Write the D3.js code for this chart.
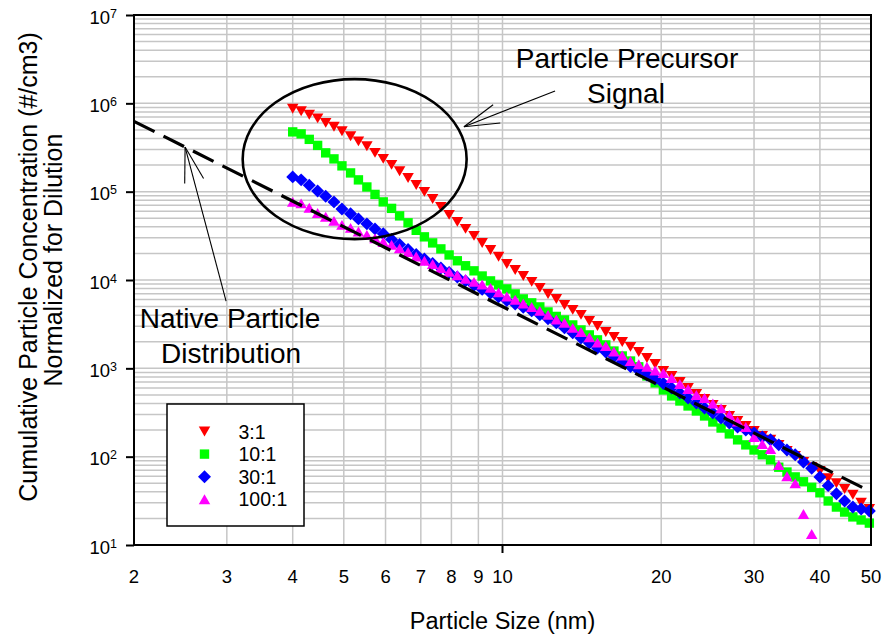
<!DOCTYPE html>
<html>
<head>
<meta charset="utf-8">
<script src="https://cdn.jsdelivr.net/npm/d3@7"></script>
<style>
  html, body { margin: 0; padding: 0; background: #ffffff; }
  svg { display: block; font-family: "Liberation Sans", Arial, Helvetica, sans-serif; }
</style>
</head>
<body>
<svg id="chart" width="895" height="635"></svg>
<script>
// Particle size channels (nm), shared by all dilution series
const sizes = [
  4.00, 4.15, 4.30, 4.46, 4.62, 4.79, 4.96, 5.15, 5.33, 5.53,
  5.73, 5.94, 6.16, 6.38, 6.62, 6.86, 7.11, 7.37, 7.64, 7.92,
  8.21, 8.51, 8.83, 9.15, 9.49, 9.83, 10.19, 10.57, 10.95, 11.36,
  11.77, 12.20, 12.65, 13.11, 13.59, 14.09, 14.61, 15.14, 15.70, 16.27,
  16.87, 17.49, 18.13, 18.79, 19.48, 20.19, 20.93, 21.70, 22.49, 23.32,
  24.17, 25.06, 25.98, 26.93, 27.92, 28.94, 30.00, 31.10, 32.24, 33.42,
  34.64, 35.91, 37.23, 38.59, 40.00, 41.47, 42.99, 44.56, 46.19, 47.89,
  49.64
];

// Cumulative concentration (#/cm3), normalized for dilution
const dil3 = [
  867000, 812000, 741000, 676000, 601000, 542000, 482000, 423000, 371000, 326000,
  275000, 235000, 201000, 170000, 143000, 119000, 99500, 82800, 67300, 54600,
  45500, 37900, 31600, 26300, 21900, 18300, 15200, 13000, 11100, 9520,
  8140, 6960, 6110, 5220, 4590, 4030, 3440, 3020, 2580, 2270,
  1990, 1750, 1530, 1310, 1120, 935, 820, 701, 600, 513,
  450, 385, 338, 289, 254, 223, 195, 172, 155, 136,
  116, 102, 87, 76, 69, 57, 50, 43, 37, 30,
  25.6
];
const dil10 = [
  475000, 451000, 391000, 334000, 275000, 235000, 196000, 163000, 136000, 113000,
  93100, 76600, 64700, 53200, 44400, 36500, 30800, 26300, 22500, 19200,
  16500, 14500, 12700, 11100, 9770, 8800, 7930, 6960, 6110, 5510,
  4960, 4350, 3870, 3530, 3100, 2720, 2390, 2100, 1840, 1570,
  1380, 1210, 1040, 820, 684, 569, 487, 427, 375, 329,
  289, 247, 211, 181, 155, 136, 119, 105, 92, 76,
  67, 59, 52, 45, 39, 31.5, 26.9, 23.6, 20.8, 19.2,
  17.7
];
const dil30 = [
  147000, 136000, 118000, 102000, 88500, 76600, 63800, 56100, 49200, 43200,
  37900, 33300, 28800, 25300, 22200, 19500, 17300, 15400, 13700, 12200,
  10800, 9770, 8690, 7830, 7140, 6440, 5870, 5360, 4900, 4470,
  4030, 3630, 3270, 2870, 2520, 2210, 1940, 1700, 1530, 1350,
  1180, 1050, 947, 842, 759, 675, 600, 526, 462, 406,
  356, 313, 274, 241, 217, 200, 185, 167, 155, 136,
  119, 105, 87, 74, 59, 47, 38, 31.5, 26.9, 25.6,
  24.3
];
const dil100 = [
  76600, 73700, 65600, 57500, 51900, 46700, 42100, 38900, 35500, 32400,
  29600, 27000, 25000, 22800, 20800, 18500, 16500, 15200, 13700, 12400,
  11300, 10300, 9520, 8910, 8140, 7240, 6520, 5960, 5430, 4960,
  4470, 4030, 3580, 3270, 2870, 2580, 2240, 1960, 1790, 1550,
  1400, 1210, 1110, 1040, 947, 887, 778, 665, 584, 500,
  462, 400, 352, 297, 250, 217, 167, 139, 122, 80.5,
  60, 50, 22.4, 13.3
];

// Native particle distribution (power-law fit), end points
const nativeSizes = [2, 50];
const nativeValues = [625000, 40];

// Axis tick values
const xTickLabels = [2, 3, 4, 5, 6, 7, 8, 9, 10, 20, 30, 40, 50];
const yMajorTicks = [1e1, 1e2, 1e3, 1e4, 1e5, 1e6, 1e7];

const seriesNames = ["3:1", "10:1", "30:1", "100:1"];
const seriesValues = [dil3, dil10, dil30, dil100];
const seriesColors = ["#ff0000", "#00ff00", "#0000ff", "#ff00ff"];
const seriesShapes = ["down", "square", "diamond", "up"];

const svg = d3.select("#chart");
const plotL = 134, plotR = 871, plotT = 15, plotB = 545;

const x = d3.scaleLog().domain([2, 50]).range([plotL, plotR]);
const y = d3.scaleLog().domain([10, 1e7]).range([plotB, plotT]);

// Gridlines
const grid = svg.append("g").attr("stroke", "#c6c6c6").attr("stroke-width", 1.5);
grid.selectAll("line.vx")
  .data(x.ticks().filter(d => d > 2.001 && d < 49.99))
  .join("line")
  .attr("x1", d => x(d)).attr("x2", d => x(d))
  .attr("y1", plotT).attr("y2", plotB);
grid.selectAll("line.hy")
  .data(y.ticks().filter(d => d > 10.01 && d < 0.999e7))
  .join("line")
  .attr("x1", plotL).attr("x2", plotR)
  .attr("y1", d => y(d)).attr("y2", d => y(d));

// Marker shapes
function markerPath(shape) {
  if (shape === "square") return d3.symbol(d3.symbolSquare, 88)();
  if (shape === "diamond") return d3.symbol(d3.symbolSquare, 84)();
  const s = 11.5, h = s * Math.sqrt(3) / 2;
  if (shape === "up") return `M0,${-h / 2}L${s / 2},${h / 2}L${-s / 2},${h / 2}Z`;
  return `M0,${h / 2}L${s / 2},${-h / 2}L${-s / 2},${-h / 2}Z`;
}
function markerTransform(shape, px, py) {
  return shape === "diamond" ? `translate(${px},${py}) rotate(45)` : `translate(${px},${py})`;
}

// Data markers
seriesValues.forEach((vals, k) => {
  const pts = vals.map((v, i) => ({ d: sizes[i], v: v }));
  svg.append("g")
    .attr("fill", seriesColors[k])
    .selectAll("path")
    .data(pts)
    .join("path")
    .attr("d", markerPath(seriesShapes[k]))
    .attr("transform", p => markerTransform(seriesShapes[k], x(p.d), y(p.v)));
});

// Native particle distribution line
const nativePts = nativeSizes.map((d, i) => [d, nativeValues[i]]);
svg.append("path")
  .datum(nativePts)
  .attr("fill", "none")
  .attr("stroke", "#000")
  .attr("stroke-width", 3.2)
  .attr("stroke-dasharray", "23,10")
  .attr("d", d3.line().x(p => x(p[0])).y(p => y(p[1])));

// Plot frame
svg.append("rect")
  .attr("x", plotL).attr("y", plotT)
  .attr("width", plotR - plotL).attr("height", plotB - plotT)
  .attr("fill", "none").attr("stroke", "#000").attr("stroke-width", 2);

// Y axis ticks and power-of-ten labels
svg.append("g")
  .attr("transform", `translate(${plotL},0)`)
  .call(d3.axisLeft(y).tickValues(yMajorTicks).tickSize(8).tickFormat(""))
  .call(g => g.select(".domain").remove())
  .call(g => g.selectAll(".tick line").attr("stroke", "#000").attr("stroke-width", 2));

const yLab = svg.append("g").attr("font-size", 18.5).attr("fill", "#000");
yMajorTicks.forEach(v => {
  const t = yLab.append("text")
    .attr("x", 117).attr("y", y(v) + 8.5)
    .attr("text-anchor", "end");
  t.append("tspan").text("10");
  t.append("tspan").attr("font-size", 12.5).attr("dy", -6).text(String(Math.round(Math.log10(v))));
});

// X axis labels
svg.append("g")
  .attr("font-size", 18.5).attr("fill", "#000").attr("text-anchor", "middle")
  .selectAll("text")
  .data(xTickLabels)
  .join("text")
  .attr("x", d => x(d)).attr("y", 583)
  .text(d => d);
svg.append("line")
  .attr("x1", x(10)).attr("x2", x(10))
  .attr("y1", plotB).attr("y2", plotB + 8)
  .attr("stroke", "#000").attr("stroke-width", 2);

// Axis titles
svg.append("text")
  .attr("x", (plotL + plotR) / 2).attr("y", 629)
  .attr("text-anchor", "middle").attr("font-size", 23.5)
  .text("Particle Size (nm)");
svg.append("text")
  .attr("transform", "translate(36.5,267) rotate(-90)")
  .attr("text-anchor", "middle").attr("font-size", 25)
  .text("Cumulative Particle Concentration (#/cm3)");
svg.append("text")
  .attr("transform", "translate(61.5,260) rotate(-90)")
  .attr("text-anchor", "middle").attr("font-size", 25)
  .text("Normalized for Dilution");

// Legend
const lg = svg.append("g");
lg.append("rect")
  .attr("x", 167).attr("y", 404).attr("width", 137).attr("height", 122)
  .attr("fill", "#fff").attr("stroke", "#000").attr("stroke-width", 1.5);
seriesNames.forEach((name, k) => {
  const ry = 431.5 + k * 22.6;
  lg.append("path")
    .attr("d", markerPath(seriesShapes[k]))
    .attr("transform", markerTransform(seriesShapes[k], 204.5, ry))
    .attr("fill", seriesColors[k]);
  lg.append("text")
    .attr("x", 238.5).attr("y", ry + 7)
    .attr("font-size", 19.5).text(name);
});

// Annotation: precursor signal ellipse
const ex0 = x(3.215), ex1 = x(8.55), ey0 = y(1.88e6), ey1 = y(2.9e4);
svg.append("ellipse")
  .attr("cx", (ex0 + ex1) / 2).attr("cy", (ey0 + ey1) / 2)
  .attr("rx", (ex1 - ex0) / 2).attr("ry", (ey1 - ey0) / 2)
  .attr("fill", "none").attr("stroke", "#000").attr("stroke-width", 2.6);

// Open stick arrows
function arrow(tip, tail) {
  const [tx, ty] = tip, [sx, sy] = tail;
  const ang = Math.atan2(sy - ty, sx - tx);
  const len = 36.5, spread = 15.5 * Math.PI / 180;
  const g = svg.append("g").attr("stroke", "#000").attr("stroke-width", 1.1).attr("fill", "none");
  g.append("line").attr("x1", sx).attr("y1", sy).attr("x2", tx).attr("y2", ty);
  [-spread, spread].forEach(s => {
    g.append("line")
      .attr("x1", tx).attr("y1", ty)
      .attr("x2", tx + len * Math.cos(ang + s))
      .attr("y2", ty + len * Math.sin(ang + s));
  });
}
arrow([x(8.45), y(5.44e5)], [x(12.58), y(1.38e6)]);
arrow([x(2.5), y(3.2e5)], [x(2.99), y(5.78e3)]);

// Annotation text
const ann = svg.append("g").attr("font-size", 28).attr("text-anchor", "middle").attr("fill", "#000");
ann.append("text").attr("x", 627).attr("y", 68).text("Particle Precursor");
ann.append("text").attr("x", 626).attr("y", 103).text("Signal");
ann.append("text").attr("x", 230).attr("y", 328).text("Native Particle");
ann.append("text").attr("x", 231).attr("y", 363).text("Distribution");
</script>
</body>
</html>
